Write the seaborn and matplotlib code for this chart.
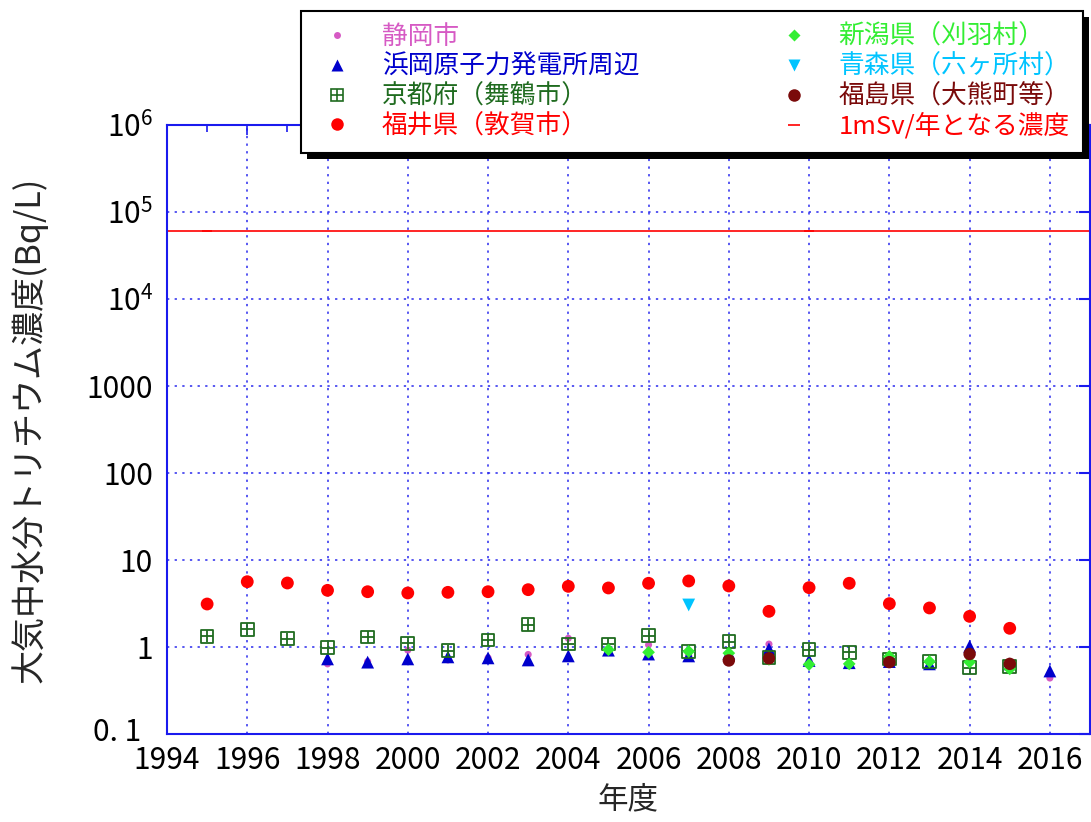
import pandas as pd
import seaborn as sns
import matplotlib.pyplot as plt
from matplotlib.lines import Line2D
from matplotlib.patches import Rectangle
from matplotlib.ticker import FixedLocator, NullLocator
from matplotlib.transforms import ScaledTranslation

sns.set_style("white")
plt.rcParams["font.family"] = ["Noto Sans CJK JP", "DejaVu Sans"]

# tritium concentration in atmospheric moisture (Bq/L)
shizuoka_years = list(range(1998, 2017))
shizuoka = [0.64, 0.68, 0.92, 0.71, 0.75, 0.82, 1.26, 0.90, 1.06, 0.80,
            0.85, 1.08, 0.68, 0.65, 0.68, 0.66, 0.85, 0.62, 0.44]

hamaoka_years = list(range(1998, 2017))
hamaoka = [0.73, 0.67, 0.73, 0.77, 0.75, 0.71, 0.79, 0.92, 0.83, 0.79,
           0.85, 0.95, 0.70, 0.66, 0.68, 0.64, 1.02, 0.64, 0.53]

kyoto_years = list(range(1995, 2016))
kyoto = [1.33, 1.60, 1.25, 0.98, 1.30, 1.10, 0.91, 1.21, 1.81, 1.08, 1.08,
         1.35, 0.89, 1.15, 0.76, 0.93, 0.87, 0.73, 0.68, 0.58, 0.60]

fukui_years = list(range(1995, 2016))
fukui = [3.12, 5.63, 5.44, 4.48, 4.32, 4.18, 4.25, 4.32, 4.56, 4.98, 4.77,
         5.40, 5.74, 5.03, 2.57, 4.81, 5.40, 3.15, 2.81, 2.25, 1.64]

niigata_years = list(range(2005, 2016))
niigata = [0.93, 0.87, 0.89, 0.85, 0.72, 0.63, 0.64, 0.78, 0.68, 0.67, 0.56]

aomori_years = [2007]
aomori = [3.04]

fukushima_years = [2008, 2009, 2012, 2014, 2015]
fukushima = [0.70, 0.74, 0.67, 0.83, 0.64]

dose_limit = 6.0e4
dose_limit_years = [1995, 2010]

xtick_years = list(range(1994, 2017, 2))
ytick_values = [0.1, 1, 10, 100, 1000, 1e4, 1e5, 1e6]
ytick_labels = ["0. 1", "1", "10", "100", "1000",
                r"$\mathregular{10^4}$", r"$\mathregular{10^5}$", r"$\mathregular{10^6}$"]

names = ["静岡市", "浜岡原子力発電所周辺", "京都府（舞鶴市）", "福井県（敦賀市）",
         "新潟県（刈羽村）", "青森県（六ヶ所村）", "福島県（大熊町等）", "1mSv/年となる濃度"]

pink = "#d65ac4"
blue = "#0000cc"
dkgreen = "#1f6b1f"
red = "#ff0000"
green = "#33ee33"
cyan = "#00c4ff"
maroon = "#7a0a0a"

fig = plt.figure(figsize=(10.91, 8.22), dpi=100)
ax = fig.add_axes([167 / 1091, 1 - 734 / 822, 923 / 1091, 609 / 822])

series = [
    (shizuoka_years, shizuoka, dict(marker="o", s=26, color=pink)),
    (hamaoka_years, hamaoka, dict(marker="^", s=85, color=blue)),
    (kyoto_years, kyoto, dict(marker="s", s=82, color=dkgreen, facecolor="none",
                              edgecolor=dkgreen, linewidth=1.3)),
    (kyoto_years, kyoto, dict(marker="+", s=82, color=dkgreen, linewidth=1.3)),
    (fukui_years, fukui, dict(marker="o", s=85, color=red)),
    (niigata_years, niigata, dict(marker="D", s=42, color=green)),
    (aomori_years, aomori, dict(marker="v", s=85, color=cyan)),
    (fukushima_years, fukushima, dict(marker="o", s=80, color=maroon)),
]
for i, (xs, ys, kw) in enumerate(series):
    kw = dict(kw)
    if kw["marker"] != "+" and "edgecolor" not in kw:
        kw["edgecolor"] = "none"
    sns.scatterplot(x=xs, y=ys, ax=ax, zorder=3 + i * 0.1, **kw)

ax.axhline(dose_limit, color=red, lw=1.2, zorder=2)
sns.scatterplot(x=dose_limit_years, y=[dose_limit] * len(dose_limit_years), ax=ax,
                marker="_", s=60, color=red, linewidth=1.2, zorder=2)

ax.set_yscale("log")
ax.set_xlim(1994, 2017)
ax.set_ylim(0.1, 1e6)
ax.xaxis.set_major_locator(FixedLocator(xtick_years))
ax.xaxis.set_minor_locator(FixedLocator([y + 1 for y in xtick_years]))
ax.set_xticklabels([str(y) for y in xtick_years])
ax.yaxis.set_major_locator(FixedLocator(ytick_values))
ax.yaxis.set_minor_locator(NullLocator())
ax.set_yticklabels(ytick_labels)

ax.grid(True, which="major", color="#2a2aee", linestyle=(0, (1.5, 3.5)), lw=1.1)
for sp in ax.spines.values():
    sp.set_color("#1a1aee")
    sp.set_linewidth(1.5)
ax.tick_params(axis="both", which="both", direction="in", colors="#1a1aee",
               labelcolor="black", top=True, right=True, labelsize=21.5)
ax.tick_params(axis="x", which="major", length=7, width=1.2, pad=8)
ax.tick_params(axis="x", which="minor", length=5, width=1.2)
ax.tick_params(axis="y", which="major", length=8, width=1.5, pad=10)

# the lowest y label sits a little left and up, clear of "1994"
low = ax.get_yticklabels()[0]
low.set_transform(low.get_transform() + ScaledTranslation(-12 / 100, 5 / 100, fig.dpi_scale_trans))

ax.set_xlabel("年度", fontsize=22, labelpad=6)
ax.set_ylabel("大気中水分トリチウム濃度(Bq/L)", fontsize=24.5, labelpad=28)

# legend
handles = [
    Line2D([], [], ls="", marker="o", ms=5, color=pink, mec="none"),
    Line2D([], [], ls="", marker="^", ms=9, color=blue, mec="none"),
    (Line2D([], [], ls="", marker="s", ms=8.5, mfc="none", mec=dkgreen, mew=1.2),
     Line2D([], [], ls="", marker="+", ms=8.5, color=dkgreen, mew=1.2)),
    Line2D([], [], ls="", marker="o", ms=9, color=red, mec="none"),
    Line2D([], [], ls="", marker="D", ms=6.5, color=green, mec="none"),
    Line2D([], [], ls="", marker="v", ms=9, color=cyan, mec="none"),
    Line2D([], [], ls="", marker="o", ms=9, color=maroon, mec="none"),
    Line2D([], [], ls="", marker="_", ms=8, color=red, mew=1.2),
]
text_colors = [pink, blue, dkgreen, red, green, cyan, maroon, red]
leg = fig.legend(handles, names, loc="upper left", ncol=2,
                 bbox_to_anchor=(301 / 1091, 1 - 11 / 822), borderaxespad=0,
                 fontsize=18.5, frameon=True, fancybox=False, edgecolor="black",
                 framealpha=1, handlelength=1.8, handletextpad=0.85,
                 columnspacing=5.1, labelspacing=0.15, borderpad=0.5)
leg.get_frame().set_linewidth(1.5)
leg.set_zorder(5)
for t, c in zip(leg.get_texts(), text_colors):
    t.set_color(c)

# drop shadow behind the legend box
fig.canvas.draw()
bb = leg.get_window_extent()
fig.patches.append(Rectangle((bb.x0 + 6, bb.y0 - 6), bb.width, bb.height,
                             transform=None, facecolor="black", edgecolor="none",
                             zorder=4.9))

fig.savefig("out.png", dpi=100)
